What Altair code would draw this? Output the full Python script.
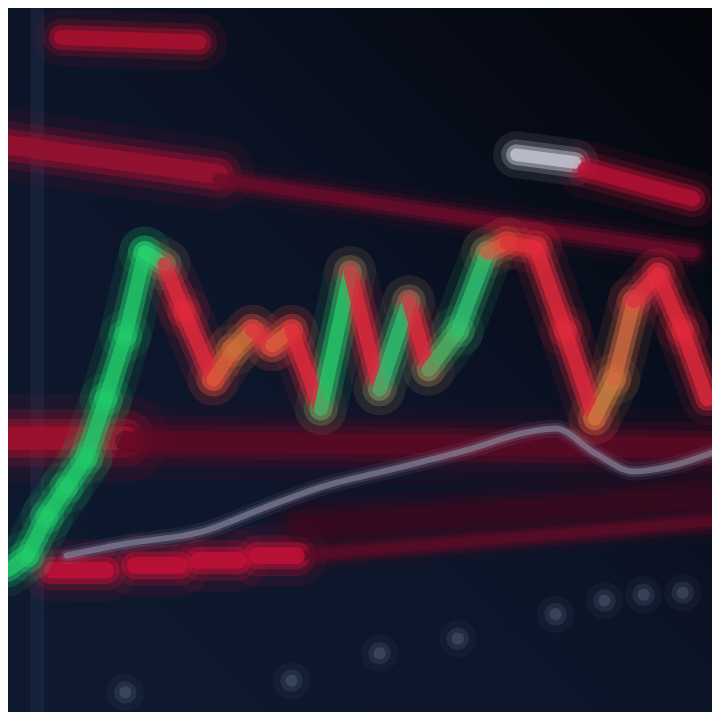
import altair as alt
import pandas as pd

zz_x = [0, 20, 40, 60, 80, 100, 120, 140, 160, 180, 210, 230, 250, 270, 290, 320, 350, 380, 410, 430, 460, 490, 510, 540, 570, 600, 620, 640, 665, 690, 715]
zz_y = [575, 560, 520, 490, 460, 400, 335, 250, 262, 310, 380, 350, 330, 345, 330, 410, 270, 390, 300, 370, 330, 250, 240, 245, 330, 420, 380, 300, 272, 330, 400]
zz_col = ["#22c86a"] * 7 + ["#2bd070", "#e02a3c", "#e02a3c", "#d8603a", "#c8703a", "#e03040", "#d8603a",
          "#e02a3c", "#28c86a", "#e02a3c", "#30c070", "#e02a3c", "#50b060", "#30c070", "#d85a40",
          "#e03038", "#e02a3c", "#e02a3c", "#c88040", "#d06a40", "#e03040", "#e02a3c", "#e02a3c"]

ma_x = [60, 120, 200, 260, 320, 400, 470, 530, 560, 600, 640, 680, 720]
ma_y = [560, 548, 535, 512, 490, 470, 452, 434, 430, 455, 474, 468, 455]

band_x = [55, 0, 215, 520, 590, 0, 120, 300, 300, 45, 130, 195, 255]
band_x2 = [195, 215, 700, 580, 700, 120, 720, 720, 720, 100, 175, 235, 295]
band_y = [30, 140, 175, 150, 165, 440, 443, 530, 560, 575, 570, 565, 560]
band_y2 = [35, 170, 250, 158, 195, 440, 450, 500, 525, 575, 570, 565, 560]
band_w = [22, 28, 16, 18, 22, 34, 30, 30, 14, 24, 24, 24, 24]
band_col = ["#b0102e", "#9e1030", "#6a0c2a", "#c8ccd8", "#b81034", "#a8102e", "#5e0a24",
            "#3a0a20", "#5a0c26", "#c81038", "#c81038", "#c81038", "#c81038"]

dot_x = [560, 610, 650, 690, 290, 380, 460, 120]
dot_y = [620, 606, 600, 598, 688, 660, 645, 700]

# ---- tables ----
zz = pd.DataFrame({
    "x": zz_x[:-1], "y": zz_y[:-1], "x2": zz_x[1:], "y2": zz_y[1:], "c": zz_col[:len(zz_x) - 1],
})
zz["w"] = 20
bands = pd.DataFrame({"x": band_x, "x2": band_x2, "y": band_y, "y2": band_y2, "w": band_w, "c": band_col})
ma = pd.DataFrame({"x": ma_x, "y": ma_y})
dots = pd.DataFrame({"x": dot_x, "y": dot_y})

xs = alt.Scale(domain=[0, 720], nice=False, zero=False)
ys = alt.Scale(domain=[0, 720], nice=False, zero=False, reverse=True)


def seg_layers(df, factors=(2.6, 1.7, 1.15, 0.7), opac=(0.1, 0.22, 0.45, 0.75)):
    out = []
    for f, o in zip(factors, opac):
        d = df.copy()
        d["ww"] = d["w"] * f
        out.append(
            alt.Chart(d).mark_rule(strokeCap="round", opacity=o, clip=True).encode(
                x=alt.X("x:Q", scale=xs, axis=None),
                y=alt.Y("y:Q", scale=ys, axis=None),
                x2="x2:Q", y2="y2:Q",
                color=alt.Color("c:N", scale=None),
                strokeWidth=alt.StrokeWidth("ww:Q", scale=None),
            )
        )
    return out


bg = alt.Chart(pd.DataFrame({"a": [0]})).mark_rect(
    color=alt.Gradient(
        gradient="linear", x1=0, y1=1, x2=1, y2=0,
        stops=[alt.GradientStop(color="#0f1a30", offset=0),
               alt.GradientStop(color="#0c1428", offset=0.5),
               alt.GradientStop(color="#03050a", offset=1)],
    )
).encode(x=alt.value(0), x2=alt.value(704), y=alt.value(0), y2=alt.value(704))

vline = alt.Chart(pd.DataFrame({"x": [30], "y": [0], "y2": [720]})).mark_rule(
    color="#1a2640", strokeWidth=14, opacity=0.7, clip=True
).encode(x=alt.X("x:Q", scale=xs, axis=None), y=alt.Y("y:Q", scale=ys, axis=None), y2="y2:Q")

ma_layers = []
for w, o in [(18, 0.1), (11, 0.2), (6, 0.55)]:
    ma_layers.append(
        alt.Chart(ma).mark_line(color="#9494ac", strokeWidth=w, opacity=o, interpolate="monotone",
                                strokeCap="round", clip=True).encode(
            x=alt.X("x:Q", scale=xs, axis=None), y=alt.Y("y:Q", scale=ys, axis=None)
        )
    )

dot_layers = [
    alt.Chart(dots).mark_circle(color="#6a7890", size=s, opacity=o, clip=True).encode(
        x=alt.X("x:Q", scale=xs, axis=None), y=alt.Y("y:Q", scale=ys, axis=None)
    )
    for s, o in [(1400, 0.08), (500, 0.18), (150, 0.3)]
]

chart = alt.layer(
    bg, vline, *seg_layers(bands), *ma_layers, *dot_layers, *seg_layers(zz)
).properties(
    width=704, height=704, autosize=alt.AutoSizeParams(type="none"), padding=0
).configure_view(stroke=None).configure(background="#0b1224")

chart.save("out.html", embed_options={"renderer": "svg", "actions": False})
